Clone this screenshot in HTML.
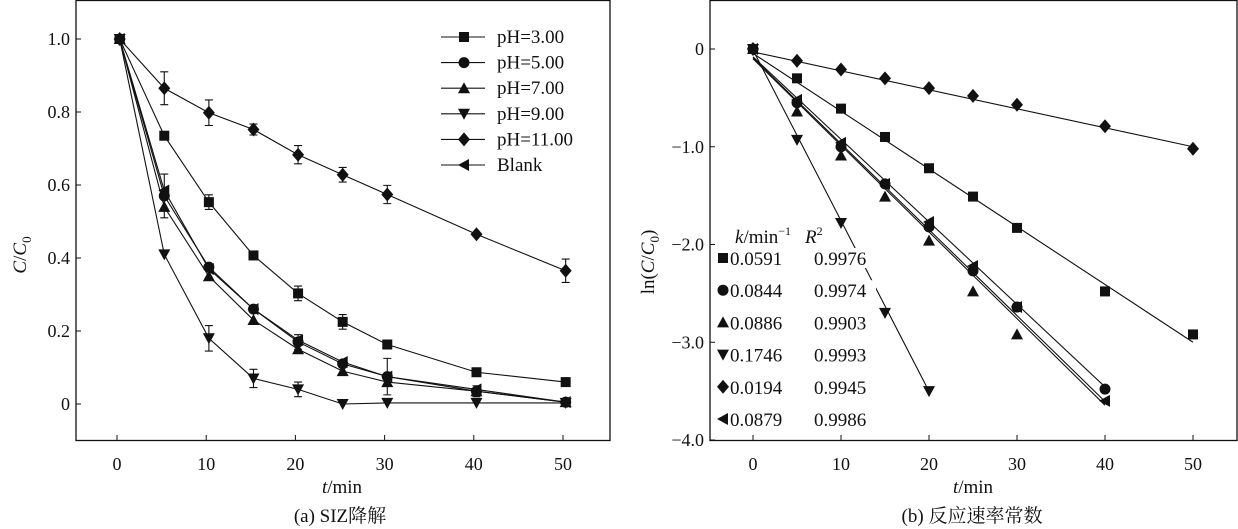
<!DOCTYPE html>
<html><head><meta charset="utf-8"><style>
html,body{margin:0;padding:0;background:#fff;}
svg{display:block;font-family:"Liberation Serif","Noto Serif CJK SC",serif;}
</style></head><body>
<svg id="c" width="1238" height="529" viewBox="0 0 1238 529" xmlns="http://www.w3.org/2000/svg"></svg>
<script>
const times = [0,5,10,15,20,25,30,40,50];
const seriesNames = ["pH=3.00","pH=5.00","pH=7.00","pH=9.00","pH=11.00","Blank"];
const markers = ["square","circle","up","down","diamond","left"];
const cPH3 = [1.0,0.735,0.553,0.407,0.303,0.225,0.163,0.087,0.06];
const cPH5 = [1.0,0.57,0.375,0.26,0.17,0.11,0.075,0.035,0.005];
const cPH7 = [1.0,0.54,0.35,0.23,0.15,0.09,0.06,0.035,0.005];
const cPH9 = [1.0,0.41,0.18,0.07,0.04,0.0,0.003,0.003,0.003];
const cPH11 = [1.0,0.865,0.798,0.752,0.683,0.628,0.574,0.465,0.365];
const cBlank = [1.0,0.585,0.37,0.26,0.175,0.115,0.075,0.04,0.005];
const errPH3 = [0,0,0.02,0,0.02,0.02,0,0,0];
const errPH5 = [0,0.06,0,0,0.02,0,0.05,0.015,0];
const errPH9 = [0,0,0.035,0.025,0.02,0,0,0,0];
const errPH11 = [0,0.045,0.035,0.015,0.025,0.02,0.025,0,0.032];
const lnPH3 = [0,-0.3,-0.61,-0.9,-1.22,-1.51,-1.83,-2.48,-2.92];
const lnPH5 = [0,-0.55,-1.0,-1.38,-1.82,-2.27,-2.64,-3.48];
const lnPH7 = [0,-0.64,-1.09,-1.51,-1.96,-2.48,-2.92];
const lnPH9 = [0,-0.93,-1.78,-2.7,-3.5];
const lnPH11 = [0,-0.12,-0.21,-0.3,-0.4,-0.48,-0.57,-0.79,-1.02];
const lnBlank = [0,-0.52,-0.96,-1.38,-1.77,-2.22,-2.64,-3.6];
const kValues = [0.0591,0.0844,0.0886,0.1746,0.0194,0.0879];
const r2Values = ["0.9976","0.9974","0.9903","0.9993","0.9945","0.9986"];
const fitIntercepts = [-0.045,-0.08,-0.1,-0.01,-0.03,-0.09];
const fitEnds = [50,40,40,20,50,40];
const xTicks = [0,10,20,30,40,50];
const yTicksA = [0,0.2,0.4,0.6,0.8,1.0];
const yTickLabelsA = ["0","0.2","0.4","0.6","0.8","1.0"];
const yTicksB = [0,-1,-2,-3,-4];
const yTickLabelsB = ["0","\u22121.0","\u22122.0","\u22123.0","\u22124.0"];

const NS="http://www.w3.org/2000/svg";
const svg=document.getElementById('c');
function mk(tag,attrs,parent){const e=document.createElementNS(NS,tag);for(const k in attrs)e.setAttribute(k,attrs[k]);(parent||svg).appendChild(e);return e;}
function txt(s,x,y,size,anchor,parent){const t=mk('text',{x:x,y:y,'font-size':size,'text-anchor':anchor||'middle',fill:'#111'},parent);t.textContent=s;return t;}
function marker(type,x,y,g){const s=5;let e;
 if(type==='square')e=mk('rect',{x:x-s,y:y-s,width:2*s,height:2*s,fill:'#111'},g);
 else if(type==='circle')e=mk('circle',{cx:x,cy:y,r:s+0.5,fill:'#111'},g);
 else{let p;
  if(type==='up')p=[[x,y-s-1],[x+s+1,y+s],[x-s-1,y+s]];
  else if(type==='down')p=[[x,y+s+1],[x+s+1,y-s],[x-s-1,y-s]];
  else if(type==='diamond')p=[[x,y-s-2],[x+s+1,y],[x,y+s+2],[x-s-1,y]];
  else p=[[x-s-1,y],[x+s,y-s-1],[x+s,y+s+1]];
  e=mk('polygon',{points:p.map(q=>q.join(',')).join(' '),fill:'#111'},g);}
 
 
 return e;}

// ---------- Panel A ----------
const A={l:76,r:610,t:0,b:440};
const xA=v=>117+v*8.92, yA=v=>404-v*365;
const gA=mk('g',{});


const fA=mk('rect',{x:A.l,y:A.t+0.5,width:A.r-A.l,height:A.b-A.t,fill:'none',stroke:'#111','stroke-width':1.3},gA);


xTicks.forEach(v=>{mk('line',{x1:xA(v),x2:xA(v),y1:A.b,y2:A.b-5,stroke:'#111'},gA);const t=txt(String(v),xA(v),A.b+30,18,'middle',gA);});
yTicksA.forEach((v,i)=>{mk('line',{x1:A.l,x2:A.l+5,y1:yA(v),y2:yA(v),stroke:'#111'},gA);const t=txt(yTickLabelsA[i],A.l-6,yA(v)+6,18,'end',gA);});
const seriesA=[cPH3,cPH5,cPH7,cPH9,cPH11,cBlank];
const errsA=[errPH3,errPH5,null,errPH9,errPH11,null];
seriesA.forEach((d,si)=>{
 const g=mk('g',{},gA);
 
 
 const pts=d.map((v,i)=>[xA(times[i]+0.3),yA(v)]);
 mk('polyline',{points:pts.map(p=>p.join(',')).join(' '),fill:'none',stroke:'#111','stroke-width':1.1},g);
 if(errsA[si])errsA[si].forEach((e,i)=>{if(e>0){const x=pts[i][0];mk('path',{d:`M${x},${yA(d[i]+e)}V${yA(d[i]-e)}M${x-4},${yA(d[i]+e)}h8M${x-4},${yA(d[i]-e)}h8`,stroke:'#111','stroke-width':1.1,fill:'none'},g);}});
 pts.forEach(p=>marker(markers[si],p[0],p[1],g));
});
const legA=mk('g',{},gA);


seriesNames.forEach((n,i)=>{const y=37+i*25.6;
 const g=mk('g',{},legA);
 
 
 mk('line',{x1:441,x2:485,y1:y,y2:y,stroke:'#111','stroke-width':1.1},g);
 marker(markers[i],464,y,g);
 txt(n,497,y+6,19,'start',g);});
const xlA=mk('text',{x:342,y:493,'font-size':19,'text-anchor':'middle',fill:'#111'},gA);
xlA.innerHTML='<tspan font-style="italic">t</tspan>/min';


const ylA=mk('text',{x:0,y:0,'font-size':19,'text-anchor':'middle',fill:'#111',transform:'translate(26,255) rotate(-90)'},gA);
ylA.innerHTML='<tspan font-style="italic">C</tspan>/<tspan font-style="italic">C</tspan><tspan font-size="13" dy="5">0</tspan>';


const capA=txt('(a) SIZ降解',340,522,19,'middle',gA);



// ---------- Panel B ----------
const B={l:710,r:1237,t:0,b:440};
const xB=v=>753+v*8.8, yB=v=>49-v*97.75;
const gB=mk('g',{});


const fB=mk('rect',{x:B.l,y:B.t+0.5,width:B.r-B.l,height:B.b-B.t,fill:'none',stroke:'#111','stroke-width':1.3},gB);


xTicks.forEach(v=>{mk('line',{x1:xB(v),x2:xB(v),y1:B.b,y2:B.b-5,stroke:'#111'},gB);const t=txt(String(v),xB(v),B.b+30,18,'middle',gB);});
yTicksB.forEach((v,i)=>{mk('line',{x1:B.l,x2:B.l+5,y1:yB(v),y2:yB(v),stroke:'#111'},gB);const t=txt(yTickLabelsB[i],B.l-6,yB(v)+6,18,'end',gB);});
const seriesB=[lnPH3,lnPH5,lnPH7,lnPH9,lnPH11,lnBlank];
seriesB.forEach((d,si)=>{
 const g=mk('g',{},gB);
 
 
 const b0=fitIntercepts[si],te=fitEnds[si];
 const fl=mk('line',{x1:xB(0),y1:yB(b0),x2:xB(te),y2:yB(b0-kValues[si]*te),stroke:'#111','stroke-width':1.1},g);
 
 
 d.forEach((v,i)=>marker(markers[si],xB(times[i]),yB(v),g));
});
const legB=mk('g',{},gB);


const hd=mk('text',{x:735,y:243,'font-size':19,fill:'#111'},legB);
hd.innerHTML='<tspan font-style="italic">k</tspan>/min<tspan font-size="12" dy="-8">−1</tspan><tspan dy="8" x="805" font-style="italic">R</tspan><tspan font-size="12" dy="-8">2</tspan>';
kValues.forEach((k,i)=>{const y=258+i*32.2;
 const g=mk('g',{},legB);
 
 
 mk('rect',{x:730,y:y-10,width:146,height:20,fill:'#fff'},g);
 marker(markers[i],723,y,g);
 txt(k.toFixed(4),730,y+7,19,'start',g);
 txt(r2Values[i],814,y+7,19,'start',g);});
const xlB=mk('text',{x:973,y:493,'font-size':19,'text-anchor':'middle',fill:'#111'},gB);
xlB.innerHTML='<tspan font-style="italic">t</tspan>/min';


const ylB=mk('text',{x:0,y:0,'font-size':19,'text-anchor':'middle',fill:'#111',transform:'translate(654,262) rotate(-90)'},gB);
ylB.innerHTML='ln(<tspan font-style="italic">C</tspan>/<tspan font-style="italic">C</tspan><tspan font-size="13" dy="5">0</tspan><tspan dy="-5">)</tspan>';


const capB=txt('(b) 反应速率常数',972,522,19,'middle',gB);


</script>
</body></html>
